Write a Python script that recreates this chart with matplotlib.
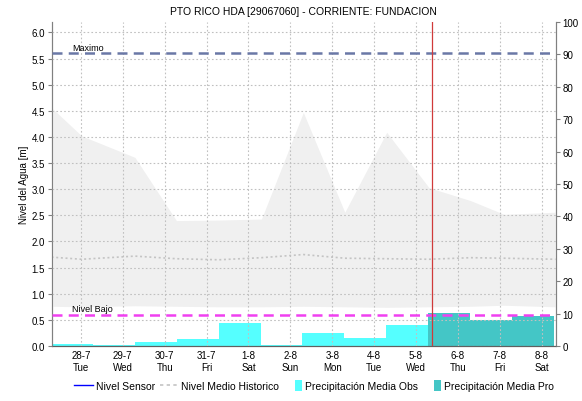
import matplotlib
matplotlib.use('Agg')
import matplotlib.pyplot as plt
import matplotlib.lines as mlines
import matplotlib.patches as mpatches
from matplotlib.legend_handler import HandlerPatch
import numpy as np

plt.rcParams['font.family'] = ['Liberation Sans', 'DejaVu Sans']

# Day ticks (0 = 28-7)
day_labels = ['28-7', '29-7', '30-7', '31-7', '1-8', '2-8', '3-8', '4-8', '5-8', '6-8', '7-8', '8-8']
weekdays = ['Tue', 'Wed', 'Thu', 'Fri', 'Sat', 'Sun', 'Mon', 'Tue', 'Wed', 'Thu', 'Fri', 'Sat']

# Historic range (min/max) and mean level [m]
hist_x = [-0.70, 0.02, 1.29, 2.28, 3.29, 4.31, 5.31, 6.30, 7.30, 8.31, 9.31, 10.1, 11.33]
hist_max = [4.56, 4.02, 3.61, 2.40, 2.41, 2.43, 4.47, 2.56, 4.09, 3.03, 2.78, 2.52, 2.56]
hist_min = [0.76, 0.75, 0.77, 0.76, 0.75, 0.75, 0.76, 0.75, 0.74, 0.75, 0.76, 0.78, 0.75]
hist_mean = [1.70, 1.66, 1.72, 1.67, 1.65, 1.69, 1.75, 1.68, 1.67, 1.66, 1.69, 1.68, 1.66]

# Daily precipitation [mm]
precip_obs = [3.7, 0.6, 0.2, 1.3, 2.3, 7.2, 0.3, 4.0, 2.5, 6.5]
precip_pro = [10.3, 8.1, 9.3]

nivel_maximo = 5.6
nivel_bajo = 0.6
ahora = 8.39


class NarrowPatch(HandlerPatch):
    # square-ish legend swatch
    def create_artists(self, legend, orig_handle, xdescent, ydescent, width, height, fontsize, trans):
        h = height * 1.5
        p = mpatches.Rectangle((width - h * 0.7 - xdescent, -ydescent - (h - height) / 2), h * 0.7, h,
                               facecolor=orig_handle.get_facecolor(), linewidth=0, transform=trans)
        return [p]


fig = plt.figure(figsize=(5.82, 4.02), dpi=100, facecolor='white')
ax = fig.add_axes([0.0893, 0.1368, 0.8652, 0.806])
ax2 = ax.twinx()
ax.set_zorder(ax2.get_zorder() + 1)
ax.patch.set_visible(False)

# precipitation bars on right axis
starts = np.arange(-2, 11) + 0.29
n_obs = len(precip_obs)
ax2.bar(starts[:n_obs], precip_obs, width=1.0, align='edge', color='#55ffff', linewidth=0)
ax2.bar(starts[n_obs:], precip_pro, width=1.0, align='edge', color='#44c6c6', linewidth=0)
ax2.set_ylim(0, 100)
ax2.set_yticks(range(0, 101, 10))

# historic band and mean
ax.fill_between(hist_x, hist_min, hist_max, color='#f0f0f0', linewidth=0, zorder=0)
ax.plot(hist_x, hist_mean, color='#c4c4c4', lw=1.2, linestyle=(0, (1.2, 1.6)), zorder=1)

# reference levels
ax.axhline(nivel_maximo, color='#6a78a6', lw=1.8, linestyle=(0, (4, 2.5)), zorder=3)
ax.axhline(nivel_bajo, color='#f040f0', lw=1.8, linestyle=(0, (4, 2.5)), zorder=3)
ax.text(-0.2, nivel_maximo + 0.03, 'Maximo', fontsize=6.5, va='bottom', ha='left')
ax.text(-0.2, nivel_bajo + 0.03, 'Nivel Bajo', fontsize=6.5, va='bottom', ha='left')
ax.axvline(ahora, color='#d03a3a', lw=0.9, zorder=4)

ax.set_xlim(-0.69, 11.33)
ax.set_ylim(0, 6.2)
ax.set_yticks(np.arange(0, 6.01, 0.5))
ax.set_yticklabels(['%.1f' % v for v in np.arange(0, 6.01, 0.5)])
ax.set_xticks(range(len(day_labels)))
ax.set_xticklabels([d + '\n' + w for d, w in zip(day_labels, weekdays)], linespacing=1.2)
ax.grid(True, color='#c0c0c0', linestyle=(0, (1.5, 2)), lw=0.8)
ax.set_axisbelow(False)

for a in (ax, ax2):
    a.tick_params(labelsize=7, length=3, width=0.8, color='#808080', pad=2)
    a.spines['top'].set_visible(False)
    a.spines['left'].set_color('#808080')
    a.spines['right'].set_color('#808080')
    a.spines['bottom'].set_color('#606060')
    a.spines['bottom'].set_linestyle((0, (1, 1)))
ax.tick_params(axis='x', length=0, pad=3)
ax.set_ylabel('Nivel del Agua [m]', fontsize=7, labelpad=2)

ax.set_title('PTO RICO HDA [29067060] - CORRIENTE: FUNDACION', fontsize=7.5, pad=6)

handles = [
    mlines.Line2D([], [], color='blue', lw=1),
    mlines.Line2D([], [], color='#c4c4c4', lw=1.2, linestyle=(0, (2, 2))),
    mpatches.Patch(color='#55ffff'),
    mpatches.Patch(color='#44c6c6'),
]
labels = ['Nivel Sensor', 'Nivel Medio Historico', 'Precipitación Media Obs', 'Precipitación Media Pro']
fig.legend(handles, labels, loc='center', bbox_to_anchor=(0.54, 0.037), ncol=4, frameon=False,
           fontsize=7.5, handlelength=1.8, handletextpad=0.3, columnspacing=0.4,
           handler_map={mpatches.Patch: NarrowPatch()})

fig.savefig('out.png', dpi=100)
